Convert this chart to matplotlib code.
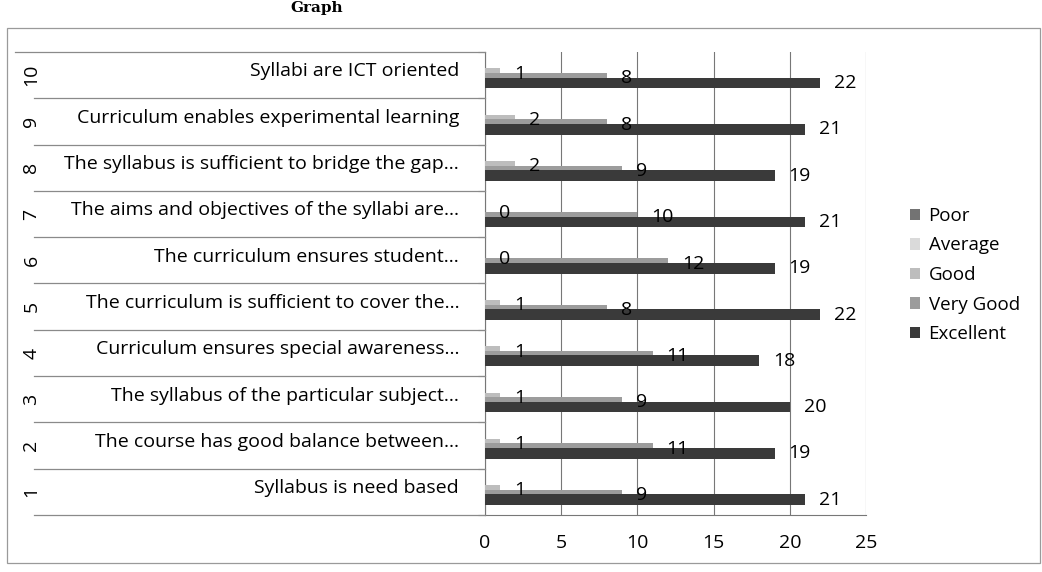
import numpy as np
import matplotlib.pyplot as plt
from matplotlib.patches import Rectangle

plt.rcParams['font.family'] = ['Open Sans', 'DejaVu Sans']

nums = ['1', '2', '3', '4', '5', '6', '7', '8', '9', '10']
questions = ['Syllabus is need based',
             'The course has good balance between...',
             'The syllabus of the particular subject...',
             'Curriculum ensures special awareness...',
             'The curriculum is sufficient to cover the...',
             'The curriculum ensures student...',
             'The aims and objectives of the syllabi are...',
             'The syllabus is sufficient to bridge the gap...',
             'Curriculum enables experimental learning',
             'Syllabi are ICT oriented']
series = ['Excellent', 'Very Good', 'Good', 'Average', 'Poor']
excellent = [21, 19, 20, 18, 22, 19, 21, 19, 21, 22]
very_good = [9, 11, 9, 11, 8, 12, 10, 9, 8, 8]
good = [1, 1, 1, 1, 1, 0, 0, 2, 2, 1]
average = [0, 0, 0, 0, 0, 0, 0, 0, 0, 0]
poor = [0, 0, 0, 0, 0, 0, 0, 0, 0, 0]
values = [excellent, very_good, good, average, poor]
labelled = [True, True, True, False, False]
colors = ['#3a3a3a', '#9c9c9c', '#bdbdbd', '#dadada', '#737373']
offsets = [-0.17, -0.07, 0.03, 0.13, 0.23]

W, H = 1042, 572
fig = plt.figure(figsize=(W / 100, H / 100), dpi=100)

def fx(px):
    return px / W

def fy(py):
    return 1 - py / H

# outer chart border
fig.patches.append(Rectangle((fx(7), fy(563)), fx(1033), fy(28) - fy(563),
                             transform=fig.transFigure, fill=False,
                             edgecolor='#9a9a9a', lw=0.9))
fig.text(fx(290), fy(1), 'Graph', family='DejaVu Serif', fontweight='bold',
         fontsize=11, va='top', ha='left')

top, bottom = 52, 515
ax = fig.add_axes([fx(485), fy(bottom), fx(866 - 485), fy(top) - fy(bottom)])
y = np.arange(1, len(nums) + 1)
for i in range(len(series) - 1, -1, -1):
    ax.barh(y + offsets[i], values[i], height=0.23, color=colors[i],
            zorder=3 + (len(series) - i), label=series[i])
    if labelled[i]:
        for yy, v in zip(y + offsets[i], values[i]):
            ax.annotate(str(v), (v, yy), xytext=(10, 0), textcoords='offset points',
                        va='center', ha='left', fontsize=14, zorder=10)

ax.set_xlim(0, 25)
ax.set_ylim(0.5, 10.5)
ax.set_xticks(range(0, 26, 5))
ax.xaxis.grid(True, color='#777777', lw=0.8, zorder=0)
ax.set_yticks(np.arange(0.5, 11, 1))
ax.set_yticklabels([])
ax.tick_params(axis='y', length=5, color='#777777')
ax.tick_params(axis='x', length=0, labelsize=14, pad=14)
for s in ['top', 'right']:
    ax.spines[s].set_visible(False)
ax.spines['left'].set_color('#777777')
ax.spines['bottom'].set_color('#777777')

# category table on the left
lax = fig.add_axes([fx(15), fy(bottom), fx(485 - 15), fy(top) - fy(bottom)])
lax.set_xlim(0, 1)
lax.set_ylim(0.5, 10.5)
lax.axis('off')
for k in np.arange(0.5, 11, 1):
    x0 = 0 if k > 9.5 else 0.04
    lax.plot([x0, 1], [k, k], color='#8a8a8a', lw=0.9, clip_on=False)
for yy, n, q in zip(y, nums, questions):
    lax.text(0.945, yy + 0.08, q, ha='right', va='center', fontsize=14)
    lax.text(0.035, yy, n, ha='center', va='center', rotation=90, fontsize=14)

h, l = ax.get_legend_handles_labels()
fig.legend(h, l, loc='upper left', bbox_to_anchor=(fx(893), fy(190)),
           frameon=False, fontsize=13.5, handlelength=0.55, handleheight=0.55,
           handletextpad=0.45, labelspacing=0.62)

fig.savefig('out.png', dpi=100)
